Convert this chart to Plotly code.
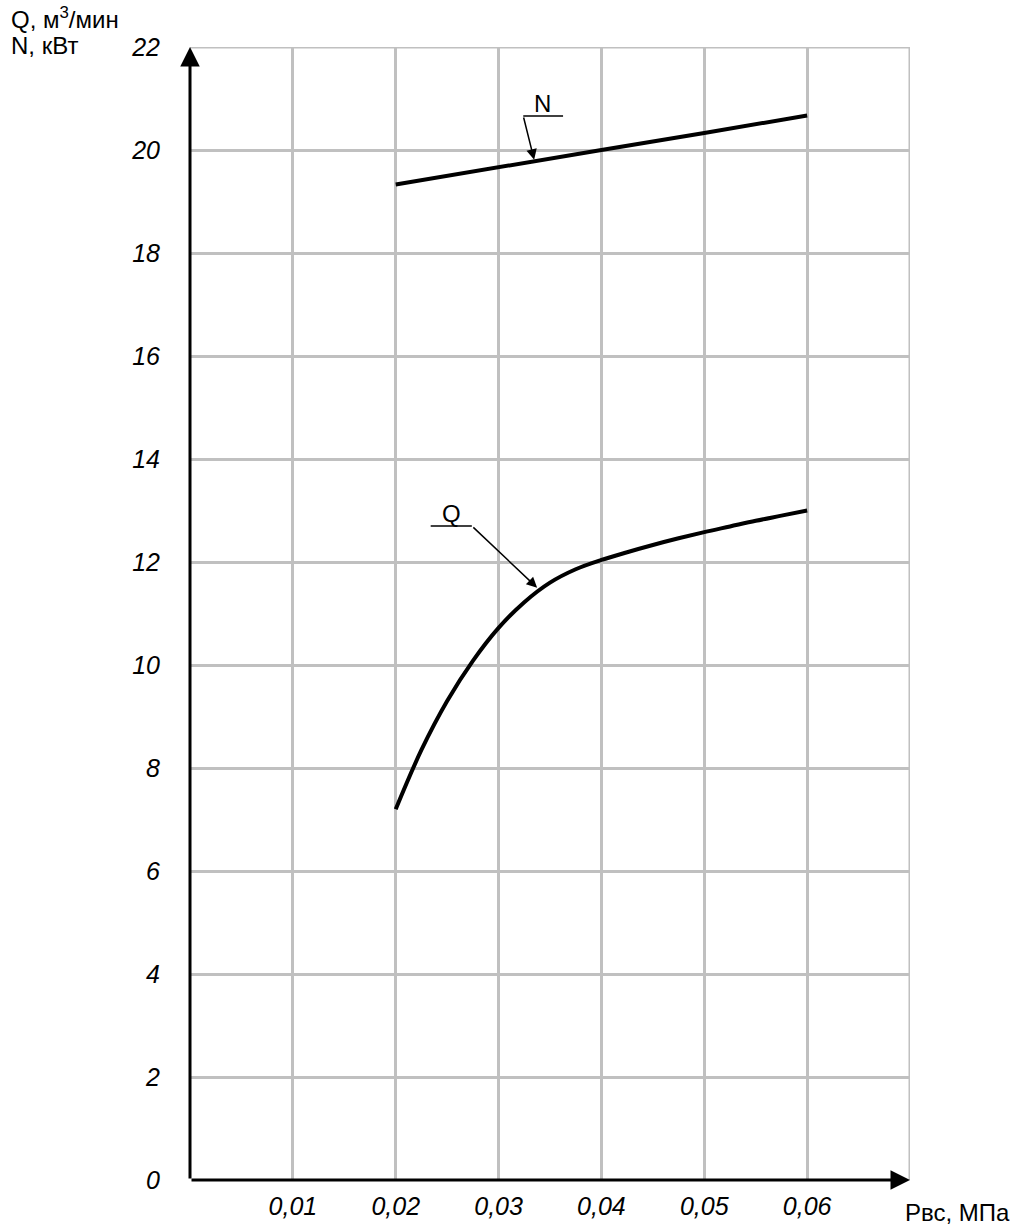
import plotly.graph_objects as go

# Suction pressure, MPa
p_n = [0.02, 0.03, 0.04, 0.05, 0.06]
n_kw = [19.33, 19.67, 20.0, 20.33, 20.67]

p_q = [0.02, 0.0225, 0.025, 0.0275, 0.03, 0.0325, 0.035, 0.0375, 0.04,
       0.0425, 0.045, 0.0475, 0.05, 0.0525, 0.055, 0.0575, 0.06]
q_m3 = [7.2, 8.35, 9.3, 10.08, 10.72, 11.22, 11.6, 11.86, 12.04,
        12.19, 12.33, 12.46, 12.58, 12.69, 12.8, 12.9, 13.0]

x_ticks = [0.01, 0.02, 0.03, 0.04, 0.05, 0.06, 0.07]
x_labels = ["0,01", "0,02", "0,03", "0,04", "0,05", "0,06", ""]
y_ticks = list(range(0, 23, 2))
y_labels = [str(v) for v in y_ticks]
x_max, y_max = 0.07, 22

FONT = "Liberation Sans, Arial, sans-serif"
GRID = "#c0c0c0"

fig = go.Figure()

fig.add_trace(go.Scatter(x=p_n, y=n_kw, mode="lines",
                         line=dict(color="black", width=4), hoverinfo="skip"))
fig.add_trace(go.Scatter(x=p_q, y=q_m3, mode="lines", line_shape="spline",
                         line=dict(color="black", width=4), hoverinfo="skip"))

ann = []
# axes with arrows
ann.append(dict(x=0, y=y_max, ax=0, ay=0, xref="x", yref="y", axref="x", ayref="y",
                text="", showarrow=True, arrowhead=2, arrowsize=1.3, arrowwidth=3,
                arrowcolor="black"))
ann.append(dict(x=x_max, y=0, ax=0, ay=0, xref="x", yref="y", axref="x", ayref="y",
                text="", showarrow=True, arrowhead=2, arrowsize=1.3, arrowwidth=3,
                arrowcolor="black"))

# curve callouts
ann.append(dict(x=0.03346, y=19.81, ax=0.0324, ay=20.66, xref="x", yref="y",
                axref="x", ayref="y", text="", showarrow=True, arrowhead=2,
                arrowsize=1.4, arrowwidth=1.5, arrowcolor="black"))
ann.append(dict(x=0.03375, y=11.5, ax=0.0274, ay=12.7, xref="x", yref="y",
                axref="x", ayref="y", text="", showarrow=True, arrowhead=2,
                arrowsize=1.4, arrowwidth=1.5, arrowcolor="black"))
ann.append(dict(x=0.0343, y=20.66, xref="x", yref="y", text="N", showarrow=False,
                yanchor="bottom", yshift=-3, font=dict(family=FONT, size=24, color="black")))
ann.append(dict(x=0.0254, y=12.7, xref="x", yref="y", text="Q", showarrow=False,
                yanchor="bottom", yshift=-3, font=dict(family=FONT, size=24, color="black")))

# axis titles
ann.append(dict(x=-0.252, y=1.0255, xref="paper", yref="paper", xanchor="left",
                yanchor="middle", showarrow=False, text="Q, м<sup>3</sup>/мин",
                font=dict(family=FONT, size=24, color="black")))
ann.append(dict(x=-0.252, y=1.0015, xref="paper", yref="paper", xanchor="left",
                yanchor="middle", showarrow=False, text="N, кВт",
                font=dict(family=FONT, size=24, color="black")))
ann.append(dict(x=0.99, y=-0.029, xref="paper", yref="paper", xanchor="left",
                yanchor="middle", showarrow=False, text="Рвс, МПа",
                font=dict(family=FONT, size=24, color="black")))

shapes = [
    # outer grid lines at the ends of both ranges
    dict(type="line", xref="x", yref="y", x0=x_max, x1=x_max, y0=0, y1=y_max,
         layer="below", line=dict(color=GRID, width=3)),
    dict(type="line", xref="x", yref="y", x0=0, x1=x_max, y0=y_max, y1=y_max,
         layer="below", line=dict(color=GRID, width=3)),
    # callout underlines
    dict(type="line", xref="x", yref="y", x0=0.0324, x1=0.03627, y0=20.66, y1=20.66,
         line=dict(color="black", width=1.5)),
    dict(type="line", xref="x", yref="y", x0=0.0234, x1=0.0274, y0=12.7, y1=12.7,
         line=dict(color="black", width=1.5)),
]

fig.update_layout(
    width=1020, height=1228,
    margin=dict(l=190, r=110, t=47, b=48, autoexpand=False),
    paper_bgcolor="white", plot_bgcolor="white",
    showlegend=False,
    annotations=ann, shapes=shapes,
    xaxis=dict(range=[0, x_max], tickvals=x_ticks, ticktext=x_labels,
               showgrid=True, gridcolor=GRID, gridwidth=3, zeroline=False,
               showline=False, ticks="", ticklabelstandoff=9, automargin=False,
               tickfont=dict(family=FONT, size=25, color="black", style="italic")),
    yaxis=dict(range=[0, y_max], tickvals=y_ticks, ticktext=y_labels,
               showgrid=True, gridcolor=GRID, gridwidth=3, zeroline=False,
               showline=False, ticks="", ticklabelstandoff=29, automargin=False,
               tickfont=dict(family=FONT, size=25, color="black", style="italic")),
)

fig.write_html("out.html")
